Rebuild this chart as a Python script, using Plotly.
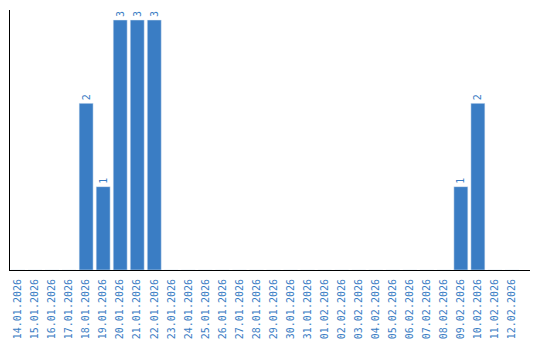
import plotly.graph_objects as go

dates = ["14.01.2026", "15.01.2026", "16.01.2026", "17.01.2026", "18.01.2026",
         "19.01.2026", "20.01.2026", "21.01.2026", "22.01.2026", "23.01.2026",
         "24.01.2026", "25.01.2026", "26.01.2026", "27.01.2026", "28.01.2026",
         "29.01.2026", "30.01.2026", "31.01.2026", "01.02.2026", "02.02.2026",
         "03.02.2026", "04.02.2026", "05.02.2026", "06.02.2026", "07.02.2026",
         "08.02.2026", "09.02.2026", "10.02.2026", "11.02.2026", "12.02.2026"]
counts = [0, 0, 0, 0, 2, 1, 3, 3, 3, 0, 0, 0, 0, 0, 0, 0, 0, 0, 0, 0,
          0, 0, 0, 0, 0, 0, 1, 2, 0, 0]

labels = [str(v) if v else "" for v in counts]
blue = "#3a7dc4"

fig = go.Figure(go.Bar(
    x=dates, y=counts, marker_color=blue, text=labels,
    textposition="outside", textangle=-90,
    textfont=dict(family="DejaVu Sans Mono", size=10, color=blue),
    cliponaxis=False,
))
fig.update_layout(
    width=540, height=340,
    margin=dict(l=10, r=10, t=10, b=70),
    plot_bgcolor="white", paper_bgcolor="white",
    bargap=0.18, showlegend=False,
    font=dict(family="DejaVu Sans Mono", size=10, color=blue),
)
fig.update_xaxes(type="category", range=[-0.47, 30.06], showline=True,
                 linecolor="black", linewidth=1, ticks="outside", ticklen=4,
                 tickcolor="rgba(0,0,0,0)", tickangle=-90, automargin=False,
                 tickfont=dict(family="DejaVu Sans Mono", size=10, color=blue),
                 showgrid=False)
fig.update_yaxes(range=[0, 3.12], showline=True, linecolor="black", linewidth=1,
                 showticklabels=False, ticks="", showgrid=False, zeroline=False,
                 automargin=False)
fig.write_html("out.html")
